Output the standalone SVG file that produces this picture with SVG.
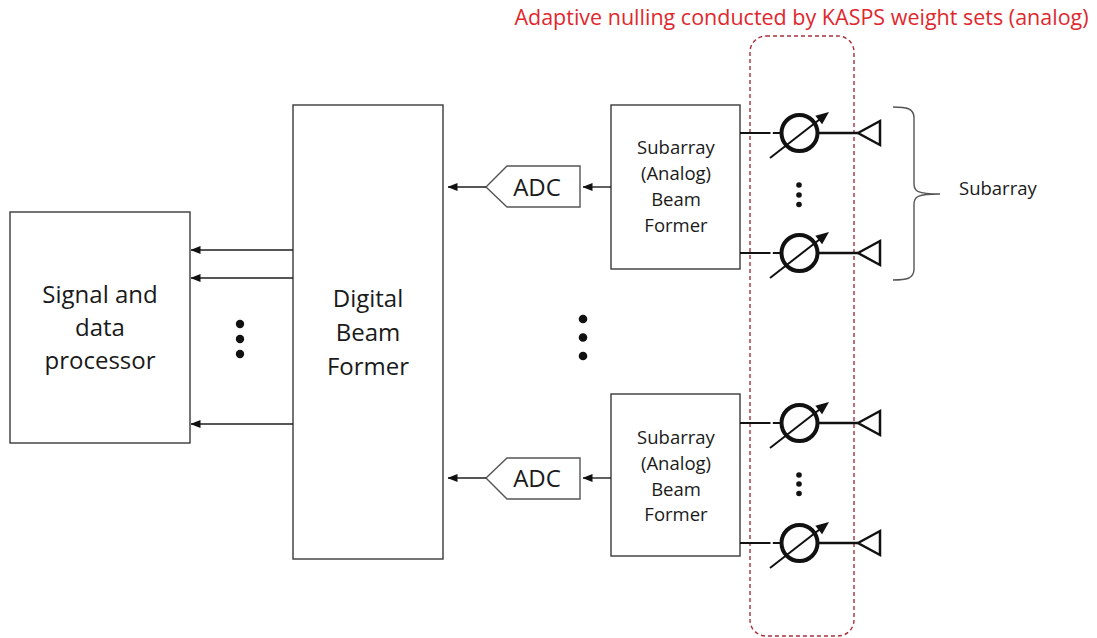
<svg xmlns="http://www.w3.org/2000/svg" width="1097" height="638" viewBox="0 0 1097 638">
<style>
.box{fill:#fff;stroke:#3a3a3a;stroke-width:1.4}
.txt{font-family:"Open Sans","Noto Sans",sans-serif;fill:#1a1a1a;text-anchor:middle}
.big{font-size:24px}
.mid{font-size:18.5px}
.conn{stroke:#1e1e1e;stroke-width:1.4;fill:none}
.wire{stroke:#111;stroke-width:2;fill:none}
.dot{fill:#111}
</style>
<defs>
<marker id="ah" markerUnits="userSpaceOnUse" markerWidth="10" markerHeight="8" refX="9.5" refY="4" orient="auto">
<path d="M0,0 L10,4 L0,8 Z" fill="#111"/>
</marker>
<g id="ps">
<line x1="740" y1="0" x2="770.5" y2="0" class="wire"/>
<line x1="772.8" y1="0" x2="782" y2="0" class="wire"/>
<line x1="817" y1="0" x2="858" y2="0" stroke="#111" stroke-width="2.5"/>
<circle cx="799.5" cy="0" r="18" fill="none" stroke="#111" stroke-width="4"/>
<line x1="770" y1="25" x2="819.5" y2="-13.5" stroke="#111" stroke-width="2"/>
<polygon points="829,-21 822.1,-8.7 815.3,-17.3" fill="#111"/>
<polygon points="858,0 880,-12 880,12" fill="none" stroke="#111" stroke-width="2.5" stroke-linejoin="miter"/>
</g>
</defs>
<rect width="1097" height="638" fill="#fff"/>

<g id="title">
<text x="801.5" y="25" class="txt" style="font-size:21.5px;fill:#e0282e">Adaptive nulling conducted by KASPS weight sets (analog)</text>
</g>

<g id="kasps-region">
<rect x="750" y="36" width="104" height="600" rx="16" ry="16" fill="none" stroke="#a8313c" stroke-width="1.4" stroke-dasharray="4 3"/>
</g>

<g id="signal-processor">
<rect x="10" y="212" width="180" height="231" class="box"/>
<text class="txt big" x="100"><tspan x="100" y="303">Signal and</tspan><tspan x="100" y="336">data</tspan><tspan x="100" y="369">processor</tspan></text>
</g>

<g id="digital-beam-former">
<rect x="293" y="105" width="150" height="454" class="box"/>
<text class="txt big" x="368"><tspan x="368" y="307">Digital</tspan><tspan x="368" y="341">Beam</tspan><tspan x="368" y="375">Former</tspan></text>
</g>

<g id="adc-1">
<polygon points="486,187 507,166 580,166 580,207 507,207" fill="#fff" stroke="#555" stroke-width="1.4"/>
<text class="txt big" x="537" y="195.5">ADC</text>
</g>
<g id="adc-2">
<polygon points="486,478 507,458 580,458 580,499 507,499" fill="#fff" stroke="#555" stroke-width="1.4"/>
<text class="txt big" x="537" y="486.5">ADC</text>
</g>

<g id="subarray-bf-1">
<rect x="611" y="105" width="129" height="164" class="box"/>
<text class="txt mid" x="676"><tspan x="676" y="154">Subarray</tspan><tspan x="676" y="180">(Analog)</tspan><tspan x="676" y="206">Beam</tspan><tspan x="676" y="232">Former</tspan></text>
</g>
<g id="subarray-bf-2">
<rect x="611" y="394" width="129" height="162" class="box"/>
<text class="txt mid" x="676"><tspan x="676" y="444">Subarray</tspan><tspan x="676" y="470">(Analog)</tspan><tspan x="676" y="496">Beam</tspan><tspan x="676" y="521">Former</tspan></text>
</g>

<g id="element-1"><use href="#ps" transform="translate(0,133)"/></g>
<g id="element-2"><use href="#ps" transform="translate(0,253)"/></g>
<g id="element-3"><use href="#ps" transform="translate(0,423)"/></g>
<g id="element-4"><use href="#ps" transform="translate(0,543)"/></g>

<g id="ellipses">
<circle class="dot" cx="799" cy="185" r="2.8"/>
<circle class="dot" cx="799" cy="195" r="2.8"/>
<circle class="dot" cx="799" cy="204.5" r="2.8"/>
<circle class="dot" cx="799" cy="475" r="2.8"/>
<circle class="dot" cx="799" cy="484" r="2.8"/>
<circle class="dot" cx="799" cy="493.5" r="2.8"/>
<circle class="dot" cx="583" cy="319" r="4.3"/>
<circle class="dot" cx="583" cy="337.5" r="4.3"/>
<circle class="dot" cx="583" cy="356" r="4.3"/>
<circle class="dot" cx="240" cy="324" r="4.2"/>
<circle class="dot" cx="240" cy="339" r="4.2"/>
<circle class="dot" cx="240" cy="354" r="4.2"/>
</g>

<g id="subarray-label">
<path d="M893,107 C906,107 914,108 914,118 L914,184 C914,191 917,194 940,194 C917,194 914,197 914,204 L914,269 C914,279 906,280 893,280" fill="none" stroke="#555" stroke-width="1.4"/>
<text class="txt" x="959" y="195" style="font-size:18.5px;text-anchor:start">Subarray</text>
</g>

<g id="connectors">
<line x1="293" y1="250" x2="191" y2="250" class="conn" marker-end="url(#ah)"/>
<line x1="293" y1="278" x2="191" y2="278" class="conn" marker-end="url(#ah)"/>
<line x1="293" y1="424" x2="191" y2="424" class="conn" marker-end="url(#ah)"/>
<line x1="611" y1="187" x2="583" y2="187" class="conn" marker-end="url(#ah)"/>
<line x1="486" y1="187" x2="448" y2="187" class="conn" marker-end="url(#ah)"/>
<line x1="611" y1="478" x2="583" y2="478" class="conn" marker-end="url(#ah)"/>
<line x1="486" y1="478" x2="448" y2="478" class="conn" marker-end="url(#ah)"/>
</g>
</svg>
